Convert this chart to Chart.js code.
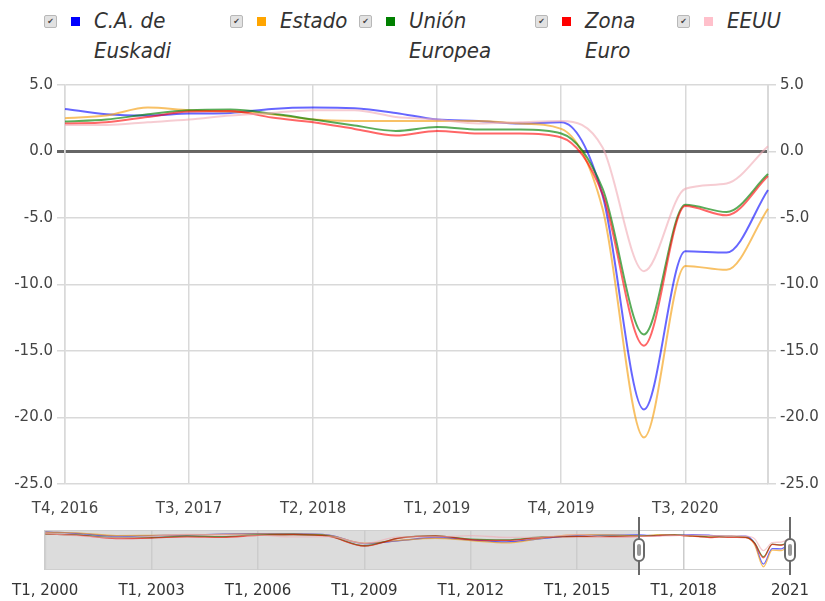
<!DOCTYPE html>
<html>
<head>
<meta charset="utf-8">
<script src="https://cdn.jsdelivr.net/npm/chart.js@4.4.1/dist/chart.umd.min.js"></script>
<style>
  body { margin: 0; background: #fff; width: 825px; height: 601px; overflow: hidden; position: relative; font-family: 'DejaVu Sans', sans-serif; }
  .leg { position: absolute; top: 6px; display: flex; align-items: flex-start; }
  .cb { width: 11px; height: 11px; border: 1px solid #b8b8b8; background: #e2e2e2; border-radius: 2px; font-size: 8px; line-height: 11px; text-align: center; color: #444; margin-top: 9px; }
  .sw { width: 9px; height: 9px; margin: 11px 0 0 14px; }
  .lbl { font-family: 'Liberation Sans Narrow', 'DejaVu Sans Condensed', sans-serif; font-style: italic; font-size: 22px; line-height: 30px; color: #333; margin-left: 14px; width: 84px; }
  #main { position: absolute; left: 0; top: 70px; }
  #nav { position: absolute; left: 0; top: 515px; }
</style>
</head>
<body>
<div id="legend"></div>
<canvas id="main" width="825" height="450"></canvas>
<canvas id="nav" width="825" height="86"></canvas>
<script>
// quarters shown in the main chart
const quarters = ['T4, 2016', 'T1, 2017', 'T2, 2017', 'T3, 2017', 'T4, 2017', 'T1, 2018', 'T2, 2018', 'T3, 2018', 'T4, 2018',
  'T1, 2019', 'T2, 2019', 'T3, 2019', 'T4, 2019', 'T1, 2020', 'T2, 2020', 'T3, 2020', 'T4, 2020', 'T1, 2021'];

const seriesNames = ['C.A. de Euskadi', 'Estado', 'Unión Europea', 'Zona Euro', 'EEUU'];
const seriesColors = ['#0000ff', '#ffa500', '#008000', '#ff0000', '#ffc0cb'];
const lineColors = ['rgba(0,0,255,0.6)', 'rgba(245,160,20,0.65)', 'rgba(0,128,0,0.65)', 'rgba(255,0,0,0.6)', 'rgba(240,170,180,0.6)'];

const euskadi = [3.2, 2.8, 2.7, 2.85, 2.9, 3.2, 3.3, 3.25, 2.9, 2.4, 2.3, 2.1, 2.2, -3.3, -19.4, -7.5, -7.6, -2.9];
const estado = [2.5, 2.7, 3.3, 3.1, 3.0, 2.8, 2.4, 2.3, 2.3, 2.3, 2.3, 2.1, 1.7, -4.3, -21.5, -8.6, -8.9, -4.3];
const ue = [2.25, 2.4, 2.8, 3.1, 3.15, 2.85, 2.4, 1.95, 1.55, 1.85, 1.65, 1.65, 1.35, -2.8, -13.75, -4.0, -4.55, -1.7];
const zonaEuro = [2.1, 2.2, 2.6, 3.0, 3.05, 2.55, 2.2, 1.7, 1.2, 1.55, 1.35, 1.35, 1.05, -3.2, -14.6, -4.1, -4.8, -1.85];
const eeuu = [2.0, 2.0, 2.2, 2.4, 2.7, 2.9, 3.1, 3.1, 2.6, 2.4, 2.1, 2.2, 2.3, 0.3, -9.0, -2.8, -2.4, 0.4];

// navigator history, first quarter of each year 2000-2016
const histYears = [2000, 2001, 2002, 2003, 2004, 2005, 2006, 2007, 2008, 2009, 2010, 2011, 2012, 2013, 2014, 2015, 2016];
const histEuskadi = [5.6, 4.2, 2.2, 2.6, 3.0, 3.8, 4.2, 4.2, 3.0, -3.5, -1.2, 1.2, -0.8, -2.2, 0.4, 2.8, 3.0];
const histEstado = [5.4, 4.6, 2.7, 2.9, 3.2, 3.6, 4.0, 4.0, 2.8, -3.2, -1.0, 0.5, -1.2, -3.0, 0.6, 3.4, 3.2];
const histUe = [3.8, 3.0, 1.1, 1.2, 2.2, 1.8, 3.3, 3.5, 2.3, -5.2, 0.9, 2.4, 0.0, -0.6, 1.6, 2.1, 2.0];
const histZonaEuro = [4.0, 2.8, 0.4, 0.8, 1.7, 1.3, 2.9, 3.4, 2.0, -5.4, 0.8, 2.4, -0.4, -1.1, 1.3, 1.8, 1.8];
const histEeuu = [4.2, 2.3, 1.0, 2.1, 3.6, 3.3, 3.1, 1.6, 1.8, -3.3, 1.7, 1.6, 2.6, 1.3, 1.5, 3.3, 1.3];

const navTicks = { min: 2000, max: 2021, step: 3 };
const yTicks = { min: -25, max: 5, step: 5 };

const mainSeries = [euskadi, estado, ue, zonaEuro, eeuu];
const histSeries = [histEuskadi, histEstado, histUe, histZonaEuro, histEeuu];

// legend
const legendLeft = [44, 230, 359, 535, 677];
const legend = document.getElementById('legend');
seriesNames.forEach((name, i) => {
  const item = document.createElement('div');
  item.className = 'leg';
  item.style.left = legendLeft[i] + 'px';
  item.innerHTML = '<div class="cb">&#10004;</div><div class="sw" style="background:' + seriesColors[i] + '"></div><div class="lbl">' + name + '</div>';
  legend.appendChild(item);
});

const tickFont = { family: 'DejaVu Sans', size: 15 };
const gridGray = '#d9d9d9';

new Chart(document.getElementById('main'), {
  type: 'line',
  data: {
    labels: quarters,
    datasets: mainSeries.map((d, i) => ({
      label: seriesNames[i],
      data: d,
      borderColor: lineColors[i],
      borderWidth: 2,
      pointRadius: 0,
      cubicInterpolationMode: 'monotone',
      fill: false,
      yAxisID: 'y'
    })).reverse()
  },
  options: {
    responsive: false,
    animation: false,
    layout: { padding: { top: 15 } },
    plugins: { legend: { display: false }, tooltip: { enabled: false } },
    scales: {
      x: {
        grid: { color: (c) => c.index % 3 === 0 ? gridGray : 'transparent', lineWidth: 1.5, drawTicks: false },
        border: { display: false },
        ticks: { autoSkip: false, maxRotation: 0, padding: 16, color: '#444', font: tickFont,
          callback: (v, i) => i % 3 === 0 ? quarters[i] : '' },
        afterFit: (s) => { s.height = 36; }
      },
      y: {
        position: 'left', min: yTicks.min, max: yTicks.max,
        grid: { color: (c) => c.tick.value === 0 ? '#666' : gridGray, lineWidth: (c) => c.tick.value === 0 ? 3 : 1.5, tickLength: 8 },
        border: { color: gridGray, width: 1.5 },
        ticks: { stepSize: yTicks.step, padding: 4, color: '#444', font: tickFont, callback: (v) => v.toFixed(1) },
        afterFit: (s) => { s.width = 65; }
      },
      y2: {
        position: 'right', min: yTicks.min, max: yTicks.max,
        grid: { drawOnChartArea: false, color: gridGray, lineWidth: 1.5, tickLength: 8 },
        border: { color: gridGray, width: 2 },
        ticks: { stepSize: yTicks.step, padding: 4, color: '#444', font: tickFont, callback: (v) => v.toFixed(1) },
        afterFit: (s) => { s.width = 57; }
      }
    }
  }
});

// navigator
function quarterToX(q) {
  const m = q.match(/T(\d), (\d+)/);
  return Number(m[2]) + (Number(m[1]) - 1) / 4;
}
const selStart = quarterToX(quarters[0]);
const selEnd = quarterToX(quarters[quarters.length - 1]);

const navShade = {
  id: 'navShade',
  beforeDraw(chart) {
    const { ctx, chartArea: a, scales: { x } } = chart;
    const xs = x.getPixelForValue(selStart);
    ctx.save();
    ctx.fillStyle = '#dcdcdc';
    ctx.fillRect(a.left, a.top, xs - a.left, a.bottom - a.top);
    ctx.strokeStyle = '#cfcfcf';
    ctx.lineWidth = 1;
    ctx.strokeRect(a.left + 0.5, a.top + 0.5, a.right - a.left - 1, a.bottom - a.top - 1);
    ctx.restore();
  },
  afterDatasetsDraw(chart) {
    const { ctx, chartArea: a, scales: { x } } = chart;
    ctx.save();
    [selStart, selEnd].forEach((v) => {
      const px = Math.round(x.getPixelForValue(v));
      ctx.strokeStyle = '#6a6a6a';
      ctx.lineWidth = 2;
      ctx.beginPath();
      ctx.moveTo(px, a.top - 13);
      ctx.lineTo(px, a.bottom + 5);
      ctx.stroke();
      const cy = (a.top + a.bottom) / 2;
      ctx.fillStyle = '#fff';
      ctx.beginPath();
      ctx.roundRect(px - 5, cy - 11, 10, 22, 5);
      ctx.fill();
      ctx.stroke();
      ctx.fillStyle = '#9a9a9a';
      ctx.beginPath();
      ctx.roundRect(px - 2, cy - 6, 4, 12, 2);
      ctx.fill();
    });
    ctx.restore();
  }
};

new Chart(document.getElementById('nav'), {
  type: 'line',
  data: {
    datasets: histSeries.map((h, i) => ({
      data: histYears.map((yr, k) => ({ x: yr, y: h[k] }))
        .concat(mainSeries[i].map((v, k) => ({ x: quarterToX(quarters[k]), y: v }))),
      borderColor: lineColors[i],
      borderWidth: 1.3,
      pointRadius: 0,
      cubicInterpolationMode: 'monotone',
      fill: false
    })).reverse()
  },
  options: {
    responsive: false,
    animation: false,
    layout: { padding: { top: 15, left: 45, right: 35 } },
    plugins: { legend: { display: false }, tooltip: { enabled: false } },
    scales: {
      x: {
        type: 'linear', min: navTicks.min, max: navTicks.max,
        grid: { color: '#cccccc', lineWidth: 1.5, drawTicks: false },
        border: { display: false },
        ticks: { stepSize: navTicks.step, padding: 12, maxRotation: 0, color: '#333', font: tickFont,
          callback: (v) => v === navTicks.max ? String(v) : 'T1, ' + v },
        afterFit: (s) => { s.height = 31; }
      },
      y: { display: false, min: -24, max: 7 }
    }
  },
  plugins: [navShade]
});
</script>
</body>
</html>
